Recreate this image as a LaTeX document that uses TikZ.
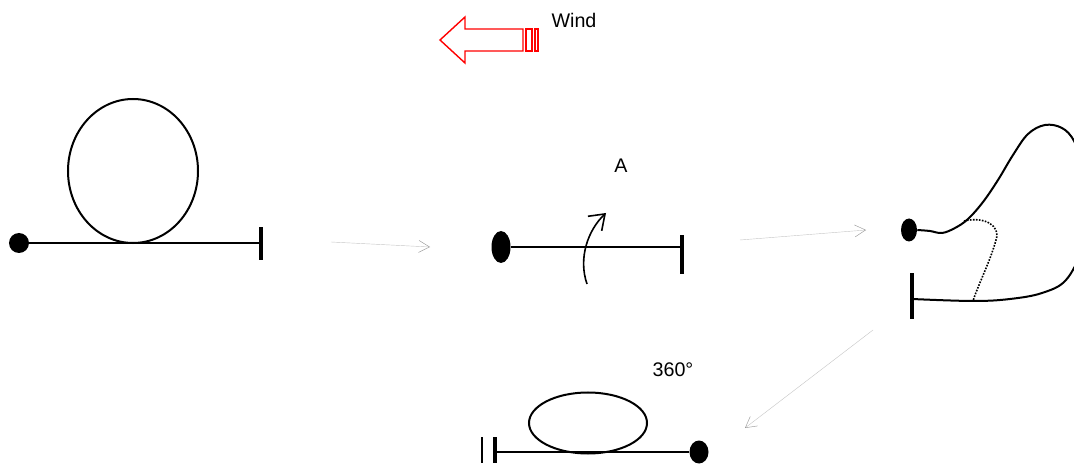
\documentclass[tikz,border=0pt]{standalone}
\usepackage{fontspec}
\setmainfont{Liberation Sans}
\usetikzlibrary{positioning, shapes, arrows.meta, calc}

\begin{document}
\begin{tikzpicture}[x=0.25mm, y=-0.25mm,
          dot/.style={ellipse, fill, inner sep=0pt},
          bar/.style={rectangle, fill, inner sep=0pt, minimum width=1mm},
          loop/.style={ellipse, draw, line width=0.5mm, inner sep=0pt},
          wire/.style={line width=0.5mm},
          txt/.style={font=\fontsize{14}{16}\selectfont},
          flow/.style={gray!45, line width=0.3pt, -{Straight Barb[length=2.7mm, width=3mm, color=gray!85]}}]
          \useasboundingbox (0,0) rectangle (1074,464);

          % wind
          \draw[red, line width=0.35mm] (440,40) -- (465,17) -- (465,29) -- (523,29) -- (523,51) -- (465,51) -- (465,63) -- cycle;
          \draw[red, line width=0.35mm] (526,29) rectangle (532,51);
          \draw[red, line width=0.35mm] (535,29) rectangle (538,51);
          \node[txt] (wind) at (574,20) {Wind};

          % step 1
          \node[dot, minimum width=5mm, minimum height=5mm] (d1) at (19,243) {};
          \node[bar, minimum height=8.25mm] (bar1) at (261,244) {};
          \node[loop, minimum width=32.5mm, minimum height=36mm] (loop1) at (133,171) {};
          \draw[wire] (d1) -- (d1 -| bar1);

          % step 2
          \node[dot, minimum width=4.75mm, minimum height=8mm] (d2) at (501,247) {};
          \node[bar, minimum height=9.75mm] (bar2) at (682,255) {};
          \draw[wire] (d2) -- (d2 -| bar2);
          \coordinate (twist0) at (587,284);
          \coordinate (twist1) at (606,213);
          \draw[line width=0.4mm, -{Straight Barb[length=3.5mm, width=5mm]}] (twist0) .. controls (578,258) and (588,230) .. (twist1);
          \node[txt] (A) at (621,166) {A};

          % step 3
          \node[dot, minimum width=4mm, minimum height=5.75mm] (d3) at (909,230) {};
          \node[bar, minimum height=11.25mm] (bar3) at (912,296) {};
          \draw[wire] plot[smooth, tension=0.6] coordinates {(d3.east) (930,231) (942,233) (955,228) (968,219) (983,202) (998,180) (1013,155) (1028,134) (1045,125) (1062,128) (1074,141) (1083,168) (1086,210) (1082,248) (1066,280) (1042,293) (1010,299) (973,301) ($(bar3)+(0,3)$)};
          \draw[line width=0.4mm, densely dotted] (964,221) .. controls (985,216) and (1001,226) .. (996,240) .. controls (990,262) and (978,285) .. (973,301);

          % step 4
          \node[txt] (deg) at (673,370) {360°};
          \node[bar, minimum height=6.5mm] (bar4) at (495,450) {};
          \node[bar, minimum width=0.4mm, minimum height=6.5mm] (stop4) at (482,450) {};
          \node[dot, minimum width=4.75mm, minimum height=5.75mm] (d4) at (699,452) {};
          \node[loop, minimum width=29.5mm, minimum height=15.25mm] (loop4) at (588,423) {};
          \draw[wire] (d4) -- (d4 -| bar4);

          % flow between steps
          \coordinate (f1s) at (331,242);
          \coordinate (f1e) at (430,247);
          \coordinate (f2s) at (740,240);
          \coordinate (f2e) at (866,230);
          \coordinate (f3s) at (873,330);
          \coordinate (f3e) at (745,428);
          \draw[flow] (f1s) -- (f1e);
          \draw[flow] (f2s) -- (f2e);
          \draw[flow] (f3s) -- (f3e);
        \end{tikzpicture}
\end{document}
